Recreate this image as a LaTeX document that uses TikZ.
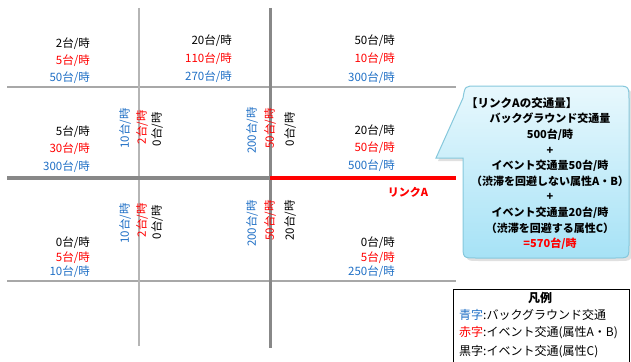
\documentclass[tikz,border=0pt]{standalone}
\usepackage{fontspec}
\setmainfont{Noto Sans CJK JP}
\definecolor{tblue}{HTML}{1F6FC5}
\definecolor{tred}{HTML}{FF0000}
\definecolor{thin}{HTML}{A8A8A8}
\definecolor{thick}{HTML}{888888}
\definecolor{cborder}{HTML}{86C8DC}
\definecolor{ctop}{HTML}{E8F8FD}
\definecolor{cbot}{HTML}{A6E2F6}
\tikzset{
  lbl/.style={inner sep=0pt, anchor=east, font=\fontsize{11.5}{13}\selectfont},
  vlbl/.style={inner sep=0pt, anchor=east, rotate=90, font=\fontsize{11.5}{13}\selectfont},
  thinline/.style={draw=thin, line width=2pt},
  thickline/.style={draw=thick, line width=3.5pt},
  ctext/.style={inner sep=0pt, font=\bfseries\fontsize{11}{15.6}\selectfont, align=center},
  legtext/.style={inner sep=0pt, anchor=west, font=\fontsize{12}{13}\selectfont},
}
\begin{document}
\begin{tikzpicture}[x=1pt,y=-1pt]
\useasboundingbox (0,0) rectangle (631,361);
% grid coordinates
\coordinate (h1l) at (7,87);   \coordinate (h1r) at (456,87);
\coordinate (h2l) at (7,178);  \coordinate (h2m) at (270,178); \coordinate (h2r) at (456,178);
\coordinate (h3l) at (7,281);  \coordinate (h3r) at (456,281);
\coordinate (v1t) at (139,8);  \coordinate (v1b) at (139,346);
\coordinate (v2t) at (270,8);  \coordinate (v2b) at (270,348);
\draw[thinline] (h1l) -- (h1r);
\draw[thinline] (h3l) -- (h3r);
\draw[draw=thin!85!white, line width=2.2pt] (v1t) -- (v1b);
\draw[thickline, line width=3pt] (v2t) -- (v2b);
\draw[thickline, line width=4pt] (h2l) -- (h2m);
\draw[draw=tred, line width=4.5pt] (h2m) -- (h2r);

% row 1
\node[lbl] (a1) at (90,44) {2台/時};
\node[lbl, text=tred] (a2) at (90,61) {5台/時};
\node[lbl, text=tblue] (a3) at (90,78) {50台/時};
\node[lbl] (b1) at (232,41) {20台/時};
\node[lbl, text=tred] (b2) at (232,59) {110台/時};
\node[lbl, text=tblue] (b3) at (232,77) {270台/時};
\node[lbl] (c1) at (395,41) {50台/時};
\node[lbl, text=tred] (c2) at (395,59) {10台/時};
\node[lbl, text=tblue] (c3) at (395,78) {300台/時};
% row 2
\node[lbl] (d1) at (90,132) {5台/時};
\node[lbl, text=tred] (d2) at (90,149) {30台/時};
\node[lbl, text=tblue] (d3) at (90,167) {300台/時};
\node[lbl] (e1) at (395,131) {20台/時};
\node[lbl, text=tred] (e2) at (395,148) {50台/時};
\node[lbl, text=tblue] (e3) at (395,166) {500台/時};
\node[inner sep=0pt, text=tred, font=\bfseries\fontsize{11}{13}\selectfont] (linkA) at (408,192) {リンクA};
% row 3
\node[lbl] (f1) at (90,243) {0台/時};
\node[lbl, text=tred] (f2) at (90,258) {5台/時};
\node[lbl, text=tblue] (f3) at (90,272) {10台/時};
\node[lbl] (g1) at (395,243) {0台/時};
\node[lbl, text=tred] (g2) at (395,258) {5台/時};
\node[lbl, text=tblue] (g3) at (395,272) {250台/時};
% vertical labels row 2
\node[vlbl, text=tblue] (p1) at (125,108) {10台/時};
\node[vlbl, text=tred] (p2) at (142,110) {2台/時};
\node[vlbl] (p3) at (157,112) {0台/時};
\node[vlbl, text=tblue] (q1) at (252,107) {200台/時};
\node[vlbl, text=tred] (q2) at (270,108) {50台/時};
\node[vlbl] (q3) at (290,112) {0台/時};
% vertical labels row 3
\node[vlbl, text=tblue] (r1) at (125,203) {10台/時};
\node[vlbl, text=tred] (r2) at (142,203) {2台/時};
\node[vlbl] (r3) at (157,205) {0台/時};
\node[vlbl, text=tblue] (s1) at (252,200) {200台/時};
\node[vlbl, text=tred] (s2) at (270,200) {50台/時};
\node[vlbl] (s3) at (290,200) {20台/時};

% callout
\coordinate (tip) at (436,158);
\fill[black, opacity=0.12] ([shift={(2,3)}]tip) -- (466,101) .. controls (468,89) .. (479,89)
  -- (618,89) .. controls (632,89) .. (632,103) -- (632,247) .. controls (632,261) .. (618,261)
  -- (479,261) .. controls (466,261) .. (466,247) -- (466,161) -- cycle;
\path[draw=cborder, line width=1pt, top color=ctop, bottom color=cbot]
  (tip) -- (463,98) .. controls (465,86) .. (476,86)
  -- (615,86) .. controls (629,86) .. (629,100) -- (629,244) .. controls (629,258) .. (615,258)
  -- (476,258) .. controls (463,258) .. (463,244) -- (463,158) -- cycle;
\node[inner sep=0pt, anchor=west, font=\bfseries\fontsize{11.5}{13}\selectfont] (ctitle) at (466,103) {【リンクAの交通量】};
\node[ctext] (cbody) at (550,181.5) {バックグラウンド交通量\\500台/時\\+\\イベント交通量50台/時\\（渋滞を回避しない属性A・B）\\+\\イベント交通量20台/時\\（渋滞を回避する属性C）\\\textcolor{tred}{=570台/時}};

% legend
\draw[black, line width=0.8pt] (453,289) rectangle (629,368);
\node[inner sep=0pt, font=\bfseries\fontsize{12}{13}\selectfont] (legT) at (540,297.5) {凡例};
\node[legtext] (leg1) at (459,315) {\textcolor{tblue}{青字}:バックグラウンド交通};
\node[legtext] (leg2) at (459,333) {\textcolor{tred}{赤字}:イベント交通(属性A・B)};
\node[legtext] (leg3) at (459,352) {黒字:イベント交通(属性C)};
\end{tikzpicture}
\end{document}
